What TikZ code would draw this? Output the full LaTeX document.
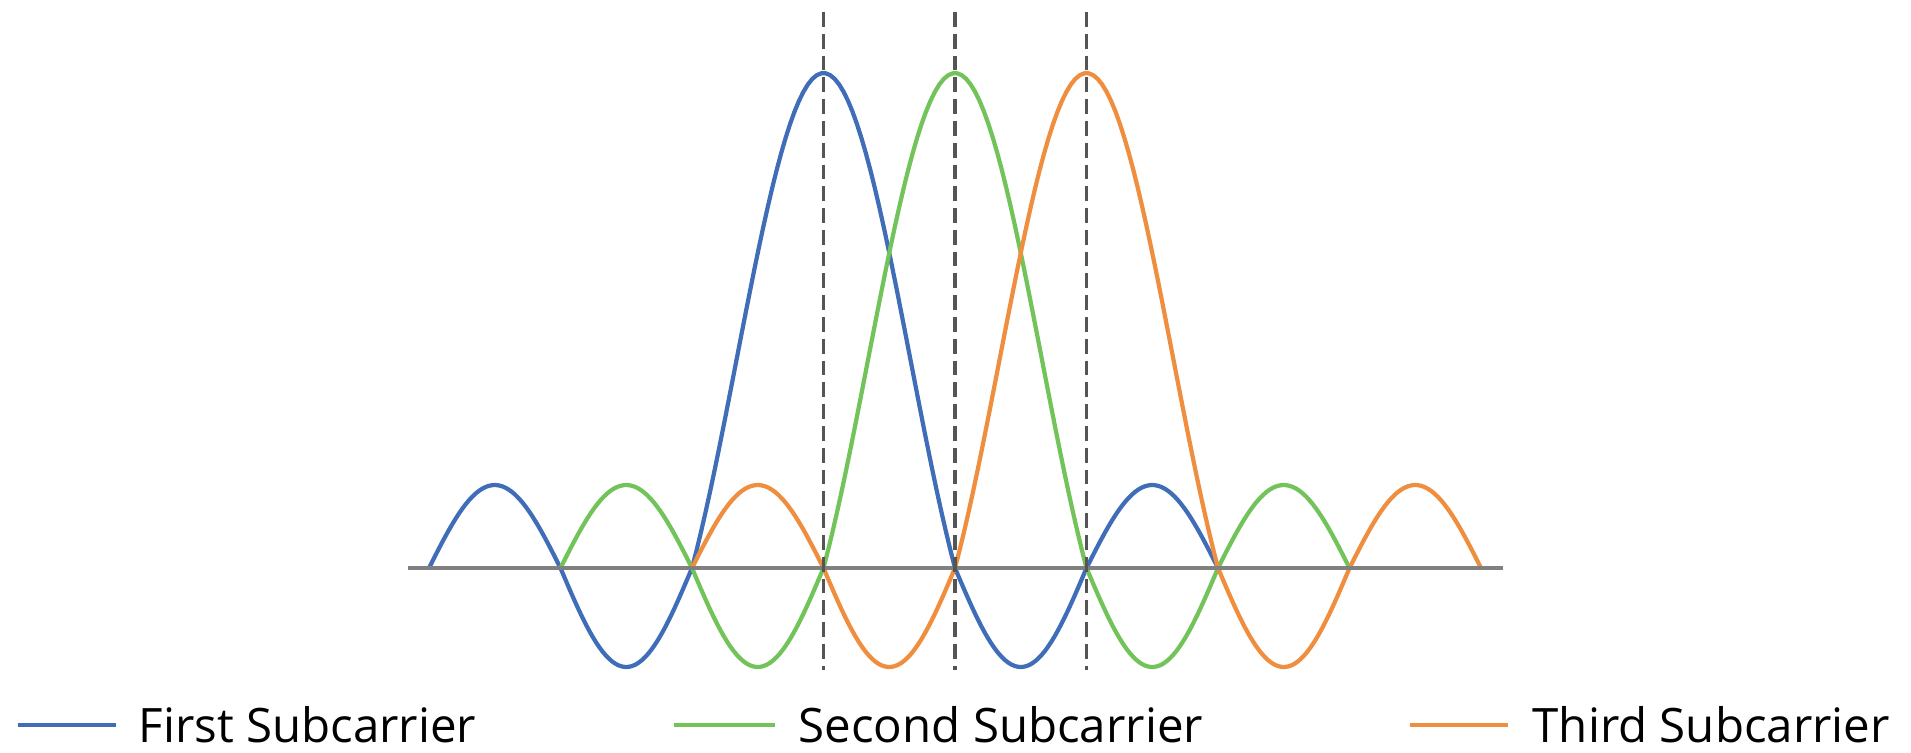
\documentclass[tikz,border=0pt]{standalone}
\usepackage{fontspec}
\setmainfont{Open Sans}
\usetikzlibrary{positioning}
\definecolor{firstsc}{HTML}{3F6DB8}
\definecolor{secondsc}{HTML}{72C35A}
\definecolor{thirdsc}{HTML}{EF8E3E}
\definecolor{axisgray}{HTML}{808080}
\definecolor{guidegray}{HTML}{555555}

\begin{document}
\begin{tikzpicture}[
    wave/.style={line width=1.2pt, line join=round},
    axisline/.style={draw=axisgray, line width=1.1pt},
    guide/.style={draw=guidegray, line width=0.9pt, dash pattern=on 4.2pt off 2pt},
    key/.style={line width=1.3pt},
    legtext/.style={font=\fontsize{13.5}{16}\selectfont, inner sep=0pt, anchor=west}
]
\useasboundingbox (0,0) rectangle (19.11,7.52);

% subcarrier spectra, one grid step = subcarrier spacing
\begin{scope}[shift={(4.29,1.84)}, x=1.315cm]
\foreach \c/\col in {3/firstsc, 4/secondsc, 5/thirdsc}{
  \draw[wave, \col]
    plot[domain=-3:-1, samples=80] ({\c+\x}, {0.91*sin(180*abs(\x)) - 0.08*abs(sin(180*\x))})
    -- plot[domain=-1:1, samples=60] ({\c+\x}, {4.95*sin(180*\x)/(pi*\x)})
    -- plot[domain=1:3, samples=80] ({\c+\x}, {0.91*sin(180*abs(\x)) - 0.08*abs(sin(180*\x))});
}

\coordinate (axL) at (-0.16,0);
\coordinate (axR) at (8.17,0);
\draw[axisline] (axL) -- (axR);

\foreach \c/\n in {3/1, 4/2, 5/3}{
  \coordinate (gtop\n) at (\c,5.56);
  \coordinate (gbot\n) at (\c,-1.02);
  \draw[guide] (gtop\n) -- (gbot\n);
}
\end{scope}

% legend
\coordinate (keyA) at (0.18,0.27);
\coordinate (keyB) at (6.74,0.27);
\coordinate (keyC) at (14.10,0.27);
\node[legtext, right=1.20cm of keyA] (lgA) {First Subcarrier};
\node[legtext, right=1.24cm of keyB] (lgB) {Second Subcarrier};
\node[legtext, right=1.22cm of keyC] (lgC) {Third Subcarrier};
\draw[key, firstsc]  (keyA) -- ([xshift=-0.22cm]lgA.west);
\draw[key, secondsc] (keyB) -- ([xshift=-0.23cm]lgB.west);
\draw[key, thirdsc]  (keyC) -- ([xshift=-0.24cm]lgC.west);
\end{tikzpicture}
\end{document}
